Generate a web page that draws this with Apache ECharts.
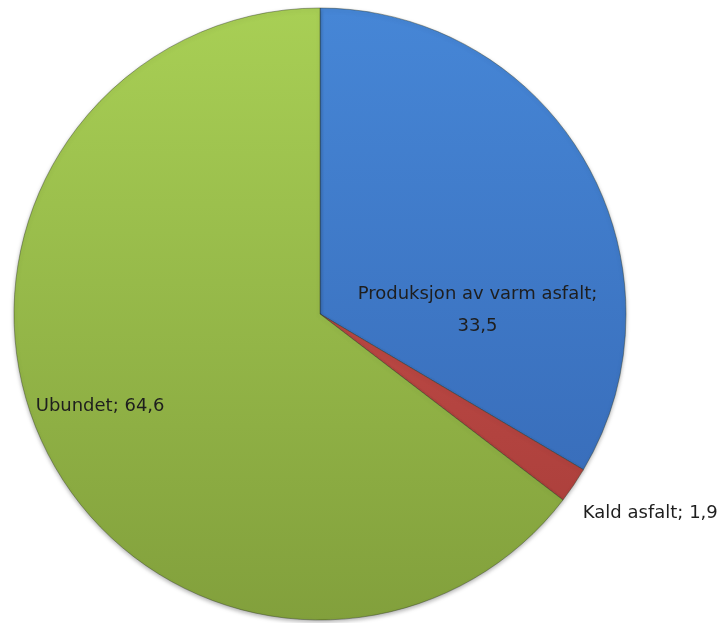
<!DOCTYPE html>
<html>
<head>
<meta charset="utf-8">
<script src="https://cdn.jsdelivr.net/npm/echarts@6/dist/echarts.min.js"></script>
<style>
  html, body { margin: 0; padding: 0; background: #fff; }
  #chart { width: 728px; height: 623px; }
</style>
</head>
<body>
<div id="chart"></div>
<script>
const categories = ["Produksjon av varm asfalt", "Kald asfalt", "Ubundet"]
const values = [33.5, 1.9, 64.6]
const labelOffsets = [[22, 74], [201, 112], [-80, 23]]

const grad = (top, bottom) => ({
  type: "linear", x: 0, y: 10, x2: 0, y2: 620, global: true,
  colorStops: [{ offset: 0, color: top }, { offset: 1, color: bottom }]
})
const fills = [grad("#4686d6", "#3567b3"), grad("#d0534f", "#a53c38"), grad("#a8cf55", "#82a03c")]

const chart = echarts.init(document.getElementById("chart"))
chart.setOption({
  animation: false,
  series: [{
    type: "pie",
    center: [320, 314],
    radius: [0, 306],
    startAngle: 90,
    clockwise: true,
    data: categories.map((name, i) => ({
      name,
      value: values[i],
      itemStyle: { color: fills[i] },
      label: { offset: labelOffsets[i] }
    })),
    itemStyle: {
      borderColor: "rgba(40,50,30,0.4)",
      borderWidth: 1,
      shadowBlur: 4,
      shadowColor: "rgba(0,0,0,0.3)",
      shadowOffsetY: 2
    },
    label: {
      position: "inside",
      color: "#1e1e1e",
      fontFamily: "DejaVu Sans",
      fontSize: 18,
      lineHeight: 32,
      align: "center",
      formatter: (p) => {
        const v = String(p.value).replace(".", ",")
        return p.dataIndex === 0 ? p.name + ";\n" + v : p.name + "; " + v
      }
    },
    labelLine: { show: false }
  }]
})
</script>
</body>
</html>
